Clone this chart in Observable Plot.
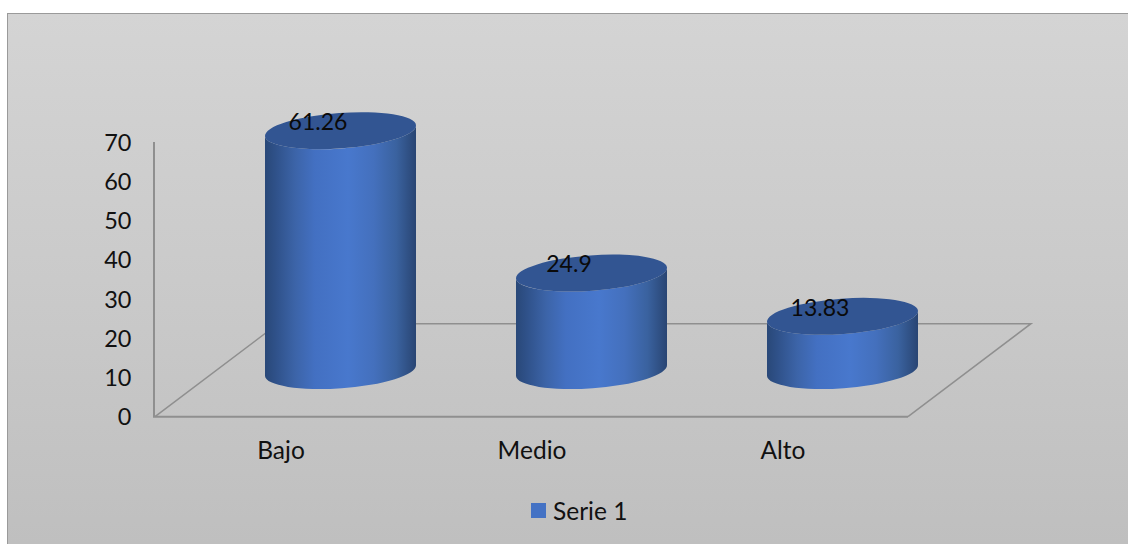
<!DOCTYPE html>
<html>
<head>
<meta charset="utf-8">
<script src="https://cdn.jsdelivr.net/npm/d3@7"></script>
<script src="https://cdn.jsdelivr.net/npm/@observablehq/plot@0.6"></script>
<style>
  html, body { margin: 0; padding: 0; background: #fff; overflow: hidden; }
  #chart {
    position: absolute; left: 7px; top: 13px; width: 1121px; height: 531px;
    box-sizing: border-box; border-left: 1px solid #9a9a9a; border-top: 1px solid #9a9a9a;
    background: linear-gradient(180deg, #d4d4d4 0%, #c9c9c9 55%, #bfbfbf 100%);
  }
  #plot { position: absolute; left: 0; top: 0; }
  #plot svg { background: transparent; display: block; }
  #legend {
    position: absolute; left: 531px; top: 498px; height: 24px; display: flex; align-items: center;
    font: 24.5px Lato, sans-serif; color: #111;
  }
  #legend i { display: inline-block; width: 15px; height: 15px; background: #4472c4; margin-right: 7px; }
</style>
</head>
<body>
<div id="chart"></div>
<div id="plot"></div>
<div id="legend"><i></i><span></span></div>
<script>
const categories = ["Bajo", "Medio", "Alto"];
const values = [61.26, 24.9, 13.83];
const yTicks = [0, 10, 20, 30, 40, 50, 60, 70];
const seriesName = "Serie 1";
const rows = categories.map((c, i) => ({category: c, value: values[i]}));

const depthX = 123, depthY = 93;      // floor depth of the 3D box
const rx = 75.5, ry = 17.7, skew = -5.5;

function floorMark(index, scales) {
  const [x0, x1] = scales.x.range();
  const y0 = scales.y(0) + 0.7;
  const g = d3.create("svg:g").attr("fill", "none").attr("stroke", "#8f8f8f");
  g.append("path")
    .attr("d", `M${x0},${y0}L${x0 + depthX},${y0 - depthY}H${x1 + depthX}L${x1},${y0}`)
    .attr("stroke-width", 1.5);
  g.append("path")
    .attr("d", `M${x0 - 1},${scales.y(70)}V${y0}H${x1}`)
    .attr("stroke-width", 2);
  return g.node();
}

function cylinders(I, scales, channels) {
  const bw = scales.x.bandwidth ? scales.x.bandwidth() / 2 : 0;
  const g = d3.create("svg:g");
  const defs = g.append("defs");
  const grad = defs.append("linearGradient").attr("id", "cyl");
  [[0, "#294878"], [0.07, "#2f5189"], [0.2, "#3c64a8"], [0.33, "#4370c2"], [0.55, "#4878cd"],
   [0.72, "#4470bd"], [0.87, "#3a629f"], [1, "#294573"]]
    .forEach(([o, c]) => grad.append("stop").attr("offset", o).attr("stop-color", c));
  const rot = Math.atan2(2 * skew, 2 * rx) * 180 / Math.PI;
  for (const i of I) {
    const cx = channels.x[i] + bw + depthX / 2 - 1.5;
    const yTop = channels.y[i] - depthY / 2 + 1;
    const yBot = scales.y(0) - depthY / 2 + 1;
    const lt = yTop - skew, rt = yTop + skew, lb = yBot - skew, rb = yBot + skew;
    g.append("path")
      .attr("d", `M${cx - rx},${lt}A${rx},${ry} ${rot} 0 0 ${cx + rx},${rt}L${cx + rx},${rb}A${rx},${ry} ${rot} 0 1 ${cx - rx},${lb}Z`)
      .attr("fill", "url(#cyl)");
    g.append("ellipse")
      .attr("cx", cx).attr("cy", yTop).attr("rx", rx + 0.2).attr("ry", ry)
      .attr("transform", `rotate(${rot} ${cx} ${yTop})`)
      .attr("fill", "#325592");
  }
  return g.node();
}

const chart = Plot.plot({
  width: 1128,
  height: 480,
  marginLeft: 155,
  marginRight: 220,
  marginTop: 142,
  marginBottom: 64,
  style: {background: "transparent", fontFamily: "Lato, sans-serif", fontSize: "22px", color: "#111", overflow: "visible"},
  x: {type: "band", domain: categories, padding: 0, label: null},
  y: {domain: [0, 70], label: null},
  marks: [
    floorMark,
    Plot.axisY({ticks: yTicks, tickSize: 0, tickPadding: 24, label: null, anchor: "left", fill: "#111", dy: 1, fontSize: 23.5}),
    Plot.axisX({tickSize: 0, tickPadding: 25, label: null, fill: "#111", fontSize: 24.5}),
    Plot.dot(rows, {x: "category", y: "value", render: cylinders}),
    Plot.text(rows, {x: "category", y: "value", text: d => String(d.value), dx: 37, dy: -54, fill: "#0a0a0a", fontSize: 23})
  ]
});
document.getElementById("plot").appendChild(chart);
document.querySelector("#legend span").textContent = seriesName;
</script>
</body>
</html>
